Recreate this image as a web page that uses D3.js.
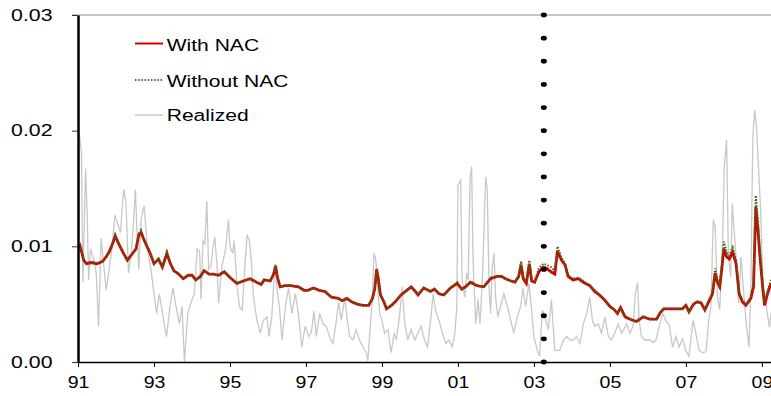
<!DOCTYPE html>
<html>
<head>
<meta charset="utf-8">
<script src="https://cdn.jsdelivr.net/npm/d3@7"></script>
<style>
body { margin: 0; background: #fff; }
svg { display: block; background: #fff; }
</style>
</head>
<body>
<svg width="771" height="396"></svg>
<script>
// volatility values are in units of 0.001
const nacTime = [
  1991.00, 1991.05, 1991.15, 1991.22, 1991.35, 1991.50, 1991.65, 1991.74, 1991.82, 1991.92, 1991.98,
  1992.06, 1992.18, 1992.30, 1992.44, 1992.53, 1992.60, 1992.66, 1992.72, 1992.80, 1992.90,
  1993.00, 1993.12, 1993.22, 1993.34, 1993.42, 1993.52, 1993.65, 1993.77, 1993.90,
  1994.00, 1994.10, 1994.22, 1994.32, 1994.45, 1994.56, 1994.70, 1994.85,
  1995.00, 1995.18, 1995.35, 1995.53, 1995.70, 1995.82, 1995.90,
  1996.06, 1996.15, 1996.20, 1996.25, 1996.32, 1996.45, 1996.60, 1996.80, 1996.95,
  1997.05, 1997.20, 1997.35, 1997.50, 1997.67, 1997.85, 1997.95,
  1998.08, 1998.20, 1998.35, 1998.50, 1998.65, 1998.75, 1998.81, 1998.86, 1998.90, 1998.96,
  1999.05, 1999.12, 1999.25, 1999.35, 1999.50, 1999.62, 1999.77, 1999.88, 1999.95,
  2000.10, 2000.28, 2000.38, 2000.50, 2000.63, 2000.80, 2000.98,
  2001.10, 2001.20, 2001.33, 2001.50, 2001.68, 2001.86,
  2002.03, 2002.15, 2002.25, 2002.40, 2002.50, 2002.60, 2002.66, 2002.72, 2002.80, 2002.88, 2002.94,
  2003.02, 2003.13, 2003.25, 2003.33, 2003.45, 2003.55, 2003.62, 2003.67, 2003.73, 2003.82, 2003.90,
  2004.03, 2004.17, 2004.30, 2004.47, 2004.60, 2004.72, 2004.85,
  2005.00, 2005.12, 2005.20, 2005.28, 2005.40, 2005.53, 2005.70, 2005.88,
  2006.05, 2006.23, 2006.33, 2006.42, 2006.56, 2006.74, 2006.91,
  2007.00, 2007.08, 2007.20, 2007.30, 2007.40, 2007.50, 2007.60, 2007.70, 2007.77, 2007.83, 2007.89, 2007.96,
  2008.00, 2008.07, 2008.14, 2008.23, 2008.32, 2008.40, 2008.49, 2008.58, 2008.71, 2008.78, 2008.84, 2008.89, 2008.95,
  2009.02, 2009.07, 2009.15, 2009.24
]
const withNAC = [
  9.9, 10.1, 8.8, 8.5, 8.6, 8.5, 8.7, 9.1, 9.5, 10.3, 10.9,
  10.3, 9.5, 8.8, 9.4, 9.8, 11.0, 11.2, 10.7, 10.1, 9.4,
  8.5, 8.9, 8.2, 9.4, 8.6, 7.9, 7.6, 7.2, 7.5,
  7.5, 7.1, 7.4, 7.9, 7.6, 7.6, 7.5, 7.8,
  7.3, 6.8, 7.0, 7.2, 6.9, 6.7, 7.1,
  7.0, 7.6, 8.3, 7.3, 6.5, 6.6, 6.6, 6.5, 6.2,
  6.2, 6.4, 6.2, 6.1, 5.6, 5.5, 5.3,
  5.5, 5.2, 5.0, 4.9, 4.9, 5.5, 6.3, 8.0, 7.3, 5.8,
  5.2, 4.6, 4.9, 5.2, 5.8, 6.1, 6.5, 6.1, 5.8,
  6.4, 6.1, 6.3, 5.9, 5.8, 6.4, 6.8,
  6.3, 6.5, 6.9, 6.6, 6.5, 7.2,
  7.4, 7.4, 7.2, 7.0, 6.9, 7.4, 8.4, 7.2, 6.8, 8.5, 7.0,
  6.9, 7.8, 8.2, 8.1, 7.8, 7.6, 9.6, 9.2, 8.8, 8.4, 7.4,
  7.1, 7.2, 6.9, 6.6, 6.1, 5.8, 5.4,
  4.8, 4.5, 4.2, 4.7, 3.9, 3.7, 3.5, 3.9,
  3.7, 3.7, 4.3, 4.6, 4.6, 4.6, 4.6,
  4.9, 4.35, 5.0, 5.2, 5.1, 4.5, 5.2, 5.9, 7.7, 6.9, 6.5, 8.5,
  9.8, 9.1, 8.9, 9.5, 8.5, 5.9, 5.2, 4.9, 5.5, 6.5, 13.4, 11.7, 9.1,
  6.5, 4.9, 5.9, 6.8
]
const withoutNAC = [
  10.0, 10.2, 8.8, 8.6, 8.6, 8.5, 8.7, 9.1, 9.6, 10.4, 11.0,
  10.3, 9.5, 8.8, 9.4, 9.9, 11.1, 11.4, 10.8, 10.1, 9.4,
  8.5, 8.9, 8.2, 9.5, 8.6, 7.9, 7.6, 7.2, 7.5,
  7.5, 7.1, 7.4, 7.9, 7.6, 7.6, 7.5, 7.8,
  7.3, 6.8, 7.0, 7.2, 6.9, 6.7, 7.1,
  7.0, 7.7, 8.4, 7.3, 6.5, 6.6, 6.6, 6.5, 6.2,
  6.2, 6.4, 6.2, 6.1, 5.6, 5.5, 5.3,
  5.5, 5.2, 5.0, 4.9, 4.9, 5.5, 6.4, 8.1, 7.3, 5.8,
  5.2, 4.6, 4.9, 5.2, 5.8, 6.1, 6.5, 6.1, 5.8,
  6.4, 6.1, 6.3, 5.9, 5.8, 6.4, 6.9,
  6.3, 6.5, 7.0, 6.6, 6.5, 7.3,
  7.4, 7.4, 7.2, 7.0, 6.9, 7.5, 8.7, 7.3, 6.9, 8.8, 7.1,
  7.0, 8.1, 8.5, 8.4, 8.2, 7.9, 10.0, 9.5, 9.0, 8.5, 7.5,
  7.2, 7.3, 7.0, 6.6, 6.2, 5.8, 5.4,
  4.8, 4.5, 4.2, 4.7, 3.9, 3.7, 3.5, 3.9,
  3.7, 3.7, 4.3, 4.6, 4.6, 4.6, 4.6,
  4.9, 4.35, 5.0, 5.2, 5.1, 4.5, 5.3, 6.0, 8.1, 7.1, 6.6, 8.9,
  10.4, 9.5, 9.2, 9.9, 8.8, 6.1, 5.3, 5.0, 5.6, 6.8, 14.4, 12.5, 9.6,
  6.8, 5.1, 6.1, 7.1
]
const realTime = [
  1991.00, 1991.04, 1991.09, 1991.13, 1991.20, 1991.24, 1991.28, 1991.33, 1991.42, 1991.48, 1991.54,
  1991.61, 1991.68, 1991.74, 1991.82, 1991.90, 1991.97,
  1992.04, 1992.12, 1992.20, 1992.26, 1992.33, 1992.40, 1992.46, 1992.51, 1992.55, 1992.60,
  1992.66, 1992.74, 1992.83, 1992.92,
  1993.00, 1993.07, 1993.14, 1993.21, 1993.27, 1993.33, 1993.42, 1993.50, 1993.58, 1993.67,
  1993.74, 1993.80, 1993.89, 1993.97,
  1994.06, 1994.14, 1994.20, 1994.24, 1994.29, 1994.34, 1994.39, 1994.44, 1994.50, 1994.55,
  1994.60, 1994.66, 1994.70, 1994.79, 1994.88, 1994.96,
  1995.00, 1995.07, 1995.11, 1995.18, 1995.25, 1995.32, 1995.40, 1995.45, 1995.51, 1995.56,
  1995.62, 1995.71, 1995.80, 1995.88, 1995.97,
  1996.03, 1996.10, 1996.18, 1996.24, 1996.30, 1996.37, 1996.46, 1996.54, 1996.63, 1996.72,
  1996.80, 1996.89, 1996.98,
  1997.07, 1997.14, 1997.21, 1997.27, 1997.36, 1997.45, 1997.53, 1997.62, 1997.71, 1997.80,
  1997.86, 1997.93,
  1998.02, 1998.09, 1998.15, 1998.24, 1998.32, 1998.41, 1998.50, 1998.59, 1998.63, 1998.68,
  1998.74, 1998.79, 1998.84, 1998.89, 1998.94,
  1999.00, 1999.07, 1999.16, 1999.24, 1999.32, 1999.38, 1999.47, 1999.53, 1999.60, 1999.68,
  1999.77, 1999.86, 1999.95,
  2000.03, 2000.12, 2000.20, 2000.28, 2000.35, 2000.41, 2000.50, 2000.59, 2000.68, 2000.76,
  2000.85, 2000.92, 2000.97,
  2001.00, 2001.07, 2001.11, 2001.18, 2001.23, 2001.27, 2001.32, 2001.36, 2001.40, 2001.47,
  2001.53, 2001.58, 2001.64, 2001.73, 2001.77, 2001.82, 2001.86, 2001.90, 2001.95, 2001.99,
  2002.05, 2002.12, 2002.21, 2002.30, 2002.39, 2002.47, 2002.56, 2002.65, 2002.71, 2002.78,
  2002.87, 2002.93,
  2003.00, 2003.09, 2003.15, 2003.22, 2003.29, 2003.38, 2003.46, 2003.55, 2003.68, 2003.78,
  2003.86, 2003.95,
  2004.04, 2004.12, 2004.21, 2004.30, 2004.39, 2004.47, 2004.54, 2004.60, 2004.69, 2004.78,
  2004.87, 2004.96,
  2005.04, 2005.13, 2005.22, 2005.31, 2005.44, 2005.53, 2005.61, 2005.67, 2005.73, 2005.77,
  2005.83, 2005.92,
  2006.05, 2006.14, 2006.21, 2006.30, 2006.39, 2006.47, 2006.56, 2006.65, 2006.74, 2006.82,
  2006.91,
  2007.00, 2007.08, 2007.19, 2007.26, 2007.35, 2007.44, 2007.53, 2007.60, 2007.66, 2007.72,
  2007.77, 2007.83, 2007.89, 2007.96,
  2008.01, 2008.07, 2008.12, 2008.18, 2008.22, 2008.32, 2008.39, 2008.45, 2008.51, 2008.58,
  2008.66, 2008.71, 2008.76, 2008.81, 2008.86, 2008.91, 2008.97,
  2009.03, 2009.10, 2009.20, 2009.24
]
const realized = [
  20.2, 19.6, 18.2, 6.9, 16.7, 13.0, 7.1, 9.8, 8.8, 7.7, 3.1,
  10.7, 8.3, 6.2, 8.0, 10.0, 12.7,
  12.0, 11.2, 14.9, 14.0, 7.7, 9.4, 12.0, 14.9, 11.5, 8.0,
  12.3, 13.5, 9.7, 8.0,
  5.9, 4.2, 5.9, 4.5, 3.3, 2.2, 4.8, 6.4, 4.8, 3.3,
  4.8, 0.0, 4.2, 5.1,
  5.9, 9.8, 9.6, 5.4, 10.5, 10.2, 13.9, 8.0, 8.3, 9.8,
  10.8, 8.3, 5.1, 8.3, 9.7, 12.3,
  10.0, 9.4, 10.5, 6.8, 4.8, 4.5, 8.6, 11.0, 10.5, 8.8,
  5.6, 3.6, 2.5, 3.6, 3.9,
  2.2, 3.9, 8.3, 6.2, 4.8, 1.9, 4.8, 6.4, 4.2, 5.9,
  4.2, 1.3, 3.1,
  2.2, 2.5, 4.4, 2.2, 4.2, 3.3, 3.1, 2.2, 1.6, 3.6,
  5.2, 3.6,
  5.6, 3.6, 2.2, 1.9, 2.8, 1.9, 1.3, 0.8, 0.1, 2.5,
  5.1, 9.4, 8.8, 6.4, 4.2,
  3.6, 2.5, 2.8, 0.8, 2.5, 1.9, 4.2, 6.5, 3.3, 1.9,
  2.8, 1.9, 2.5,
  3.1, 1.9, 1.3, 3.6, 5.9, 4.5, 3.6, 2.5, 1.6, 1.9,
  1.3, 2.5, 4.8,
  15.3, 15.7, 7.1, 5.6, 7.7, 7.1, 16.0, 16.9, 8.6, 3.3,
  5.4, 3.3, 6.8, 16.0, 15.1, 6.4, 4.2, 8.0, 9.4, 5.6,
  3.9, 4.8, 5.9, 4.8, 3.6, 2.5, 3.9, 4.8, 6.4, 4.8,
  6.8, 4.8,
  2.2, 1.0, 0.5, 4.5, 3.9, 2.8, 5.4, 1.0, 1.0, 1.9,
  2.2, 1.9,
  1.9, 2.2, 1.6, 3.3, 4.2, 5.6, 3.6, 3.1, 3.3, 2.5,
  3.9, 2.2,
  1.9, 2.5, 3.3, 2.5, 3.3, 2.5, 3.1, 5.9, 6.9, 3.6,
  2.2, 1.9,
  1.9, 1.7, 1.9, 3.1, 4.2, 3.6, 3.2, 1.3, 2.2, 1.3,
  2.0,
  1.0, 0.5, 3.6, 2.5, 1.0, 0.8, 0.9, 3.6, 4.8, 12.3,
  11.7, 5.6, 4.5, 9.8,
  16.9, 19.2, 9.1, 7.4, 13.7, 9.1, 5.1, 9.1, 6.5, 3.6,
  1.3, 6.5, 19.2, 21.8, 20.3, 16.9, 12.9,
  6.5, 5.1, 3.0, 4.2
]
const yearTicks = [1991, 1993, 1995, 1997, 1999, 2001, 2003, 2005, 2007, 2009]
const yearLabels = ['91', '93', '95', '97', '99', '01', '03', '05', '07', '09']
const volTicks = [0, 0.01, 0.02, 0.03]
const legendLabels = ['With NAC', 'Without NAC', 'Realized']
const eventYear = 2003.26

function render() {
    const svg = d3.select('svg')
    const font = '"Liberation Sans", Arial, sans-serif'

    const x = d3.scaleLinear().domain([1991, 2009.24]).range([78, 771])
    const y = d3.scaleLinear().domain([0, 0.03]).range([362, 15])

    const toPoints = (times, vals) => times.map((t, i) => ({ t: t, v: vals[i] / 1000 }))
    const line = d3.line().x(d => x(d.t)).y(d => y(d.v))

    // top frame line at 0.03
    svg.append('line')
        .attr('x1', 72).attr('x2', 771)
        .attr('y1', y(0.03)).attr('y2', y(0.03))
        .attr('stroke', '#8c8c8c').attr('stroke-width', 1)

    const plot = svg.append('g')

    plot.append('path')
        .datum(toPoints(realTime, realized))
        .attr('d', line)
        .attr('fill', 'none')
        .attr('stroke', '#c8c8c8')
        .attr('stroke-width', 1.3)

    plot.append('path')
        .datum(toPoints(nacTime, withNAC))
        .attr('d', line)
        .attr('fill', 'none')
        .attr('stroke', '#d40000')
        .attr('stroke-width', 2.8)

    plot.append('path')
        .datum(toPoints(nacTime, withoutNAC))
        .attr('d', line)
        .attr('fill', 'none')
        .attr('stroke', '#466716')
        .attr('stroke-width', 2.1)
        .attr('stroke-dasharray', '1.5,1.6')

    // dotted vertical marker
    plot.selectAll('ellipse.event')
        .data(d3.range(0, 0.0301, 0.002))
        .enter()
        .append('ellipse')
        .attr('class', 'event')
        .attr('cx', x(eventYear))
        .attr('cy', d => y(d))
        .attr('rx', 3)
        .attr('ry', 2.4)
        .attr('fill', '#000')

    // axes
    const yAxis = d3.axisLeft(y)
        .tickValues(volTicks)
        .tickFormat(d3.format('.2f'))
        .tickSize(6)
        .tickSizeOuter(0)

    const ySx = 1.33
    svg.append('g')
        .attr('transform', 'translate(78,0)')
        .call(yAxis)
        .call(g => g.select('.domain').attr('stroke', '#000').attr('stroke-width', 2.5))
        .call(g => g.selectAll('.tick line').attr('stroke', '#333'))
        .call(g => g.selectAll('text')
            .attr('x', -25.5 / ySx)
            .attr('transform', `scale(${ySx},1)`)
            .attr('fill', '#000')
            .style('font-family', font)
            .style('font-size', '16px'))

    const xAxis = d3.axisBottom(x)
        .tickValues(yearTicks)
        .tickFormat((d, i) => yearLabels[i])
        .tickSize(5)
        .tickSizeOuter(0)

    svg.append('g')
        .attr('transform', `translate(0,${y(0)})`)
        .call(xAxis)
        .call(g => g.select('.domain').attr('stroke', '#000').attr('stroke-width', 1.6))
        .call(g => g.selectAll('.tick line').attr('stroke', '#000'))
        .call(g => g.selectAll('text')
            .attr('y', 13.5)
            .attr('transform', 'scale(1.15,1)')
            .attr('fill', '#000')
            .style('font-family', font)
            .style('font-size', '17px'))

    // legend
    const legendY = [43.5, 80, 115]
    const legendBase = [50.7, 87.2, 120.7]
    const legend = svg.append('g')

    legend.append('line')
        .attr('x1', 135).attr('x2', 163).attr('y1', legendY[0]).attr('y2', legendY[0])
        .attr('stroke', '#d40000').attr('stroke-width', 2)
    legend.append('line')
        .attr('x1', 135).attr('x2', 163).attr('y1', legendY[1]).attr('y2', legendY[1])
        .attr('stroke', '#466716').attr('stroke-width', 1.8).attr('stroke-dasharray', '1.4,1.8')
    legend.append('line')
        .attr('x1', 135).attr('x2', 163).attr('y1', legendY[2]).attr('y2', legendY[2])
        .attr('stroke', '#c8c8c8').attr('stroke-width', 1.5)

    legend.selectAll('text')
        .data(legendLabels)
        .enter()
        .append('text')
        .attr('transform', (d, i) => `translate(166.7,${legendBase[i]}) scale(1.24,1)`)
        .style('font-family', font)
        .style('font-size', '17px')
        .attr('fill', '#000')
        .text(d => d)
}

render()
</script>
</body>
</html>
